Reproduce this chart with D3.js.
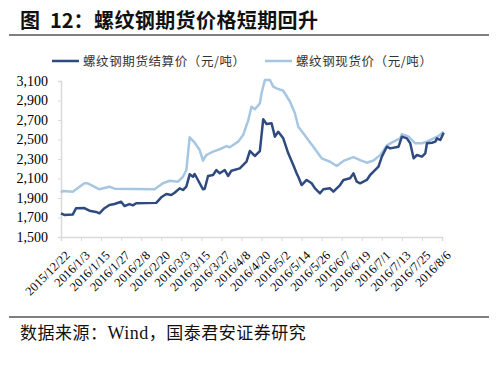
<!DOCTYPE html>
<html>
<head>
<meta charset="utf-8">
<script src="https://cdn.jsdelivr.net/npm/d3@7"></script>
<style>
  body { margin: 0; background: #fff; }
  svg { display: block; }
</style>
</head>
<body>
<svg id="chart" width="504" height="365"></svg>
<script>
// 图12 螺纹钢期货 / 现货价格
const xLabels = ['2015/12/22', '2016/1/3', '2016/1/15', '2016/1/27', '2016/2/8', '2016/2/20',
  '2016/3/3', '2016/3/15', '2016/3/27', '2016/4/8', '2016/4/20', '2016/5/2', '2016/5/14',
  '2016/5/26', '2016/6/7', '2016/6/19', '2016/7/1', '2016/7/13', '2016/7/25', '2016/8/6']
const yTicks = [1500, 1700, 1900, 2100, 2300, 2500, 2700, 2900, 3100]
const seriesNames = ['螺纹钢期货结算价（元/吨）', '螺纹钢现货价（元/吨）']

// 期货结算价
const futures = [
  ['2015/12/22', 1743], ['2015/12/24', 1726], ['2015/12/29', 1730], ['2015/12/31', 1795],
  ['2016/1/5', 1797], ['2016/1/8', 1770], ['2016/1/12', 1757], ['2016/1/14', 1743],
  ['2016/1/17', 1795], ['2016/1/20', 1828], ['2016/1/23', 1838], ['2016/1/27', 1862],
  ['2016/1/29', 1818], ['2016/2/1', 1838], ['2016/2/3', 1825], ['2016/2/5', 1846],
  ['2016/2/17', 1850], ['2016/2/20', 1907], ['2016/2/23', 1941], ['2016/2/26', 1931],
  ['2016/2/28', 1954], ['2016/3/2', 1999], ['2016/3/4', 1982], ['2016/3/6', 2016],
  ['2016/3/8', 2143], ['2016/3/10', 2118], ['2016/3/11', 2146], ['2016/3/14', 2051],
  ['2016/3/16', 1989], ['2016/3/17', 1995], ['2016/3/19', 2126], ['2016/3/22', 2136],
  ['2016/3/24', 2187], ['2016/3/26', 2153], ['2016/3/29', 2187], ['2016/3/31', 2126],
  ['2016/4/2', 2180], ['2016/4/7', 2204], ['2016/4/11', 2272], ['2016/4/13', 2382],
  ['2016/4/16', 2331], ['2016/4/19', 2380], ['2016/4/21', 2707], ['2016/4/23', 2659],
  ['2016/4/26', 2666], ['2016/4/28', 2529], ['2016/4/30', 2580], ['2016/5/3', 2512],
  ['2016/5/6', 2358], ['2016/5/9', 2238], ['2016/5/11', 2153], ['2016/5/12', 2118],
  ['2016/5/14', 2033], ['2016/5/17', 2085], ['2016/5/20', 2051], ['2016/5/22', 1999],
  ['2016/5/25', 1948], ['2016/5/27', 1989], ['2016/5/31', 1999], ['2016/6/2', 1965],
  ['2016/6/6', 2033], ['2016/6/8', 2085], ['2016/6/12', 2102], ['2016/6/14', 2153],
  ['2016/6/16', 2067], ['2016/6/18', 2051], ['2016/6/22', 2085], ['2016/6/24', 2136],
  ['2016/6/26', 2170], ['2016/6/29', 2221], ['2016/7/1', 2324], ['2016/7/4', 2426],
  ['2016/7/6', 2409], ['2016/7/11', 2426], ['2016/7/13', 2529], ['2016/7/16', 2512],
  ['2016/7/18', 2461], ['2016/7/20', 2307], ['2016/7/22', 2341], ['2016/7/25', 2324],
  ['2016/7/27', 2358], ['2016/7/28', 2461], ['2016/7/31', 2467], ['2016/8/2', 2478],
  ['2016/8/3', 2512], ['2016/8/5', 2495], ['2016/8/7', 2570]
]

// 现货价
const spot = [
  ['2015/12/22', 1955], ['2015/12/23', 1972], ['2015/12/29', 1965], ['2016/1/5', 2051],
  ['2016/1/7', 2051], ['2016/1/14', 1989], ['2016/1/20', 2016], ['2016/1/23', 1996],
  ['2016/2/16', 1989], ['2016/2/21', 2051], ['2016/2/25', 2077], ['2016/3/1', 2067],
  ['2016/3/4', 2118], ['2016/3/6', 2187], ['2016/3/8', 2523], ['2016/3/11', 2467],
  ['2016/3/14', 2392], ['2016/3/16', 2283], ['2016/3/18', 2341], ['2016/3/22', 2375],
  ['2016/3/26', 2400], ['2016/3/30', 2433], ['2016/4/1', 2420], ['2016/4/6', 2478],
  ['2016/4/9', 2546], ['2016/4/12', 2693], ['2016/4/14', 2836], ['2016/4/16', 2810],
  ['2016/4/19', 2870], ['2016/4/20', 2974], ['2016/4/22', 3110], ['2016/4/25', 3110],
  ['2016/4/27', 3042], ['2016/4/29', 3025], ['2016/5/3', 3000], ['2016/5/7', 2890],
  ['2016/5/10', 2770], ['2016/5/12', 2631], ['2016/5/15', 2564], ['2016/5/21', 2426],
  ['2016/5/26', 2307], ['2016/5/31', 2272], ['2016/6/4', 2228], ['2016/6/8', 2280],
  ['2016/6/14', 2320], ['2016/6/18', 2288], ['2016/6/22', 2262], ['2016/6/26', 2285],
  ['2016/6/30', 2340], ['2016/7/4', 2440], ['2016/7/8', 2478], ['2016/7/12', 2512],
  ['2016/7/13', 2556], ['2016/7/17', 2529], ['2016/7/21', 2461], ['2016/7/25', 2461],
  ['2016/7/28', 2478], ['2016/8/1', 2512], ['2016/8/4', 2536], ['2016/8/7', 2580]
]

const parse = d3.timeParse('%Y/%m/%d')
const colors = ['#2e4a7f', '#a6c6e2']
const serif = '"Liberation Serif", "Times New Roman", serif'
const cjk = '"Noto Sans CJK SC", sans-serif'

let svg = d3.select('#chart')
let margin = { left: 61, right: 61, top: 81, bottom: 128 }

let xscale = d3.scaleTime()
  .domain([parse(xLabels[0]), parse(xLabels[xLabels.length - 1])])
  .range([margin.left, 442])
let yscale = d3.scaleLinear().domain([1500, 3100]).range([237, margin.top])

// title
let title = svg.append('text').attr('x', 20).attr('y', 28)
  .style('font-family', cjk).style('font-weight', 'bold').style('font-size', '20px').style('fill', '#111')
title.append('tspan').text('图')
title.append('tspan').attr('x', 50).text('12：')
title.append('tspan').attr('x', 94).style('letter-spacing', '0.4px').text('螺纹钢期货价格短期回升')

svg.append('line').attr('x1', 9).attr('x2', 489).attr('y1', 35).attr('y2', 35)
  .style('stroke', '#000').style('stroke-width', 1)

// legend
let legendX = [52, 265]
seriesNames.forEach((name, i) => {
  svg.append('line')
    .attr('x1', legendX[i]).attr('x2', legendX[i] + 27)
    .attr('y1', 61).attr('y2', 61)
    .style('stroke', colors[i]).style('stroke-width', 2.5)
  svg.append('text')
    .attr('x', legendX[i] + 31).attr('y', 65.5)
    .style('font-family', cjk).style('font-size', '12.5px').style('letter-spacing', '0.6px')
    .style('fill', '#333')
    .text(name)
})

// axes
let yaxis = svg.append('g').attr('transform', `translate(${margin.left},0)`)
  .call(d3.axisLeft(yscale).tickValues(yTicks).tickSize(3).tickFormat(d3.format(',')))
yaxis.selectAll('text')
  .attr('x', -13)
  .style('font-family', serif).style('font-size', '14px').style('fill', '#000')

let xaxis = svg.append('g').attr('transform', `translate(0,237)`)
  .call(d3.axisBottom(xscale).tickValues(xLabels.map(parse)).tickSize(4)
    .tickFormat((d, i) => xLabels[i]))
xaxis.selectAll('text')
  .attr('text-anchor', 'end')
  .attr('x', 0).attr('y', 0).attr('dy', '0.35em')
  .attr('transform', 'translate(6,16) rotate(-45)')
  .style('font-family', serif).style('font-size', '12.5px').style('fill', '#000')

svg.selectAll('.domain, .tick line').style('stroke', '#d9d9d9')
svg.selectAll('.domain').style('stroke-width', 1.5)

// lines
let line = d3.line()
  .x(d => xscale(parse(d[0])))
  .y(d => yscale(d[1]))

svg.append('path')
  .attr('d', line(spot))
  .style('fill', 'none').style('stroke', colors[1]).style('stroke-width', 2.5)
  .style('stroke-linejoin', 'round')

svg.append('path')
  .attr('d', line(futures))
  .style('fill', 'none').style('stroke', colors[0]).style('stroke-width', 2.5)
  .style('stroke-linejoin', 'round')

// source
svg.append('line').attr('x1', 9).attr('x2', 489).attr('y1', 317).attr('y2', 317)
  .style('stroke', '#000').style('stroke-width', 1)

let src = svg.append('text').attr('x', 20).attr('y', 339)
  .style('font-family', cjk).style('font-size', '17px').style('letter-spacing', '0.5px').style('fill', '#111')
src.append('tspan').text('数据来源：')
src.append('tspan').style('font-family', serif).style('font-size', '18px').text('Wind')
src.append('tspan').text('，国泰君安证券研究')
</script>
</body>
</html>
